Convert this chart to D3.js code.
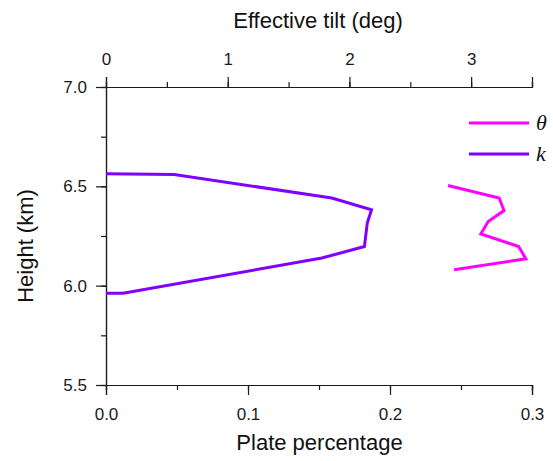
<!DOCTYPE html>
<html>
<head>
<meta charset="utf-8">
<script src="https://cdn.jsdelivr.net/npm/d3@7"></script>
<style>
  html, body { margin: 0; padding: 0; background: #fff; }
  svg { display: block; }
  .tick text { font-family: "Liberation Sans", Arial, sans-serif; }
</style>
</head>
<body>
<svg id="chart" width="553" height="461"></svg>
<script>
// k profile: plate percentage vs height (km)
const kPlate  = [0.0, 0.048, 0.159, 0.187, 0.184, 0.182, 0.152, 0.012, 0.0];
const kHeight = [6.563, 6.560, 6.441, 6.382, 6.315, 6.197, 6.139, 5.962, 5.962];

// theta profile: effective tilt (deg) vs height (km)
const thetaTilt   = [2.81, 3.23, 3.27, 3.14, 3.08, 3.39, 3.45, 2.86];
const thetaHeight = [6.504, 6.441, 6.378, 6.323, 6.261, 6.197, 6.135, 6.080];

const plateTicks  = [0.0, 0.1, 0.2, 0.3];
const tiltTicks   = [0, 1, 2, 3];
const heightTicks = [5.5, 6.0, 6.5, 7.0];

const seriesNames  = ["\u03b8", "k"];
const seriesColors = ["#ff00ff", "#8000ff"];

const svg = d3.select("#chart");
const plotLeft = 106, plotRight = 532, plotTop = 87, plotBottom = 385;

const x  = d3.scaleLinear().domain([0, 0.3]).range([plotLeft, plotRight]);
const xt = d3.scaleLinear().domain([0, 3.5]).range([plotLeft, plotRight]);
const y  = d3.scaleLinear().domain([5.5, 7.0]).range([plotBottom, plotTop]);

const axisColor = "#1a1a1a";
const tickFont = 17;

function styleAxis(g) {
  g.selectAll("path, line").attr("stroke", axisColor).attr("stroke-width", 1.2);
  g.selectAll("text").attr("font-size", tickFont).attr("fill", "#1a1a1a");
}

// minor ticks
svg.append("g").attr("transform", `translate(0,${plotBottom})`)
  .call(d3.axisBottom(x).tickValues(d3.range(0, 0.301, 0.05)).tickSize(5).tickFormat(""))
  .call(styleAxis);
svg.append("g").attr("transform", `translate(0,${plotTop})`)
  .call(d3.axisTop(xt).tickValues(d3.range(0, 3.51, 0.5)).tickSize(5).tickFormat(""))
  .call(styleAxis);
svg.append("g").attr("transform", `translate(${plotLeft},0)`)
  .call(d3.axisLeft(y).tickValues(d3.range(5.5, 7.01, 0.25)).tickSize(5).tickFormat(""))
  .call(styleAxis);

// major ticks with labels
svg.append("g").attr("transform", `translate(0,${plotBottom})`)
  .call(d3.axisBottom(x).tickValues(plateTicks).tickSize(10).tickPadding(13).tickFormat(d3.format(".1f")))
  .call(styleAxis);
svg.append("g").attr("transform", `translate(0,${plotTop})`)
  .call(d3.axisTop(xt).tickValues(tiltTicks).tickSize(10).tickPadding(12).tickFormat(d3.format("d")))
  .call(styleAxis);
svg.append("g").attr("transform", `translate(${plotLeft},0)`)
  .call(d3.axisLeft(y).tickValues(heightTicks).tickSize(10).tickPadding(9).tickFormat(d3.format(".1f")))
  .call(styleAxis);

// axis titles
const titleFont = 22;
svg.append("text").attr("x", 318).attr("y", 28)
  .attr("text-anchor", "middle").attr("font-family", "Liberation Sans, Arial, sans-serif")
  .attr("font-size", titleFont).attr("fill", "#111").text("Effective tilt (deg)");
svg.append("text").attr("x", 319.5).attr("y", 450)
  .attr("text-anchor", "middle").attr("font-family", "Liberation Sans, Arial, sans-serif")
  .attr("font-size", titleFont).attr("fill", "#111").text("Plate percentage");
svg.append("text").attr("transform", "translate(33,246) rotate(-90)")
  .attr("text-anchor", "middle").attr("font-family", "Liberation Sans, Arial, sans-serif")
  .attr("font-size", titleFont).attr("fill", "#111").text("Height (km)");

// data lines
const kLine = d3.line().x(i => x(kPlate[i])).y(i => y(kHeight[i]));
const thetaLine = d3.line().x(i => xt(thetaTilt[i])).y(i => y(thetaHeight[i]));

svg.append("path").attr("d", kLine(d3.range(kPlate.length)))
  .attr("fill", "none").attr("stroke", seriesColors[1]).attr("stroke-width", 3)
  .attr("stroke-linejoin", "miter");
svg.append("path").attr("d", thetaLine(d3.range(thetaTilt.length)))
  .attr("fill", "none").attr("stroke", seriesColors[0]).attr("stroke-width", 3)
  .attr("stroke-linejoin", "miter");

// legend
const legend = svg.append("g");
seriesNames.forEach((name, i) => {
  const ly = 123 + i * 31;
  legend.append("line").attr("x1", 469).attr("x2", 529).attr("y1", ly).attr("y2", ly)
    .attr("stroke", seriesColors[i]).attr("stroke-width", 3);
  legend.append("text").attr("x", 536).attr("y", ly + 7)
    .attr("font-family", "Liberation Serif, 'Times New Roman', serif")
    .attr("font-style", "italic").attr("font-size", 22).attr("fill", "#111").text(name);
});
</script>
</body>
</html>
